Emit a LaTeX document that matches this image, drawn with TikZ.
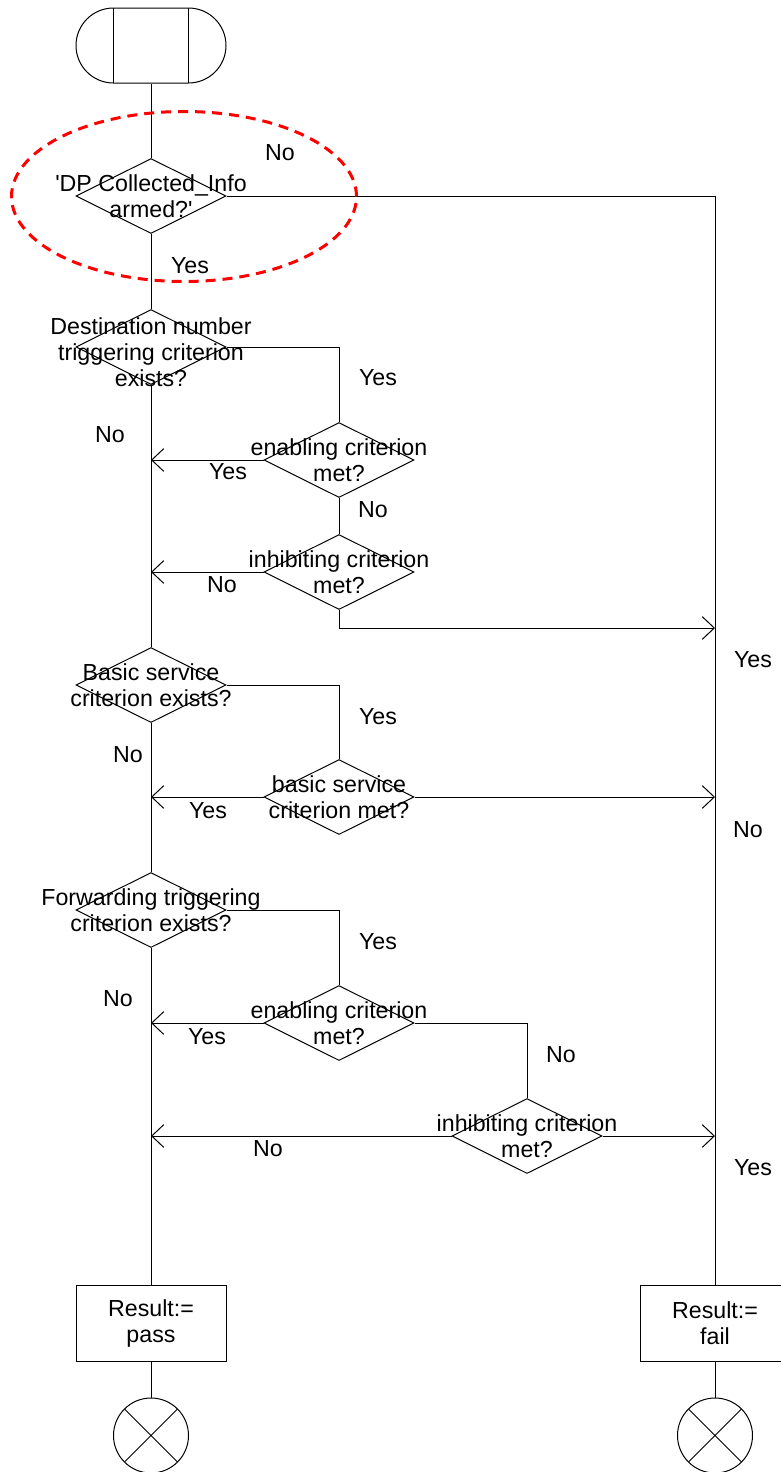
\documentclass[tikz,border=0pt]{standalone}
\usepackage{fontspec}
\setmainfont{Liberation Sans}
\usetikzlibrary{shapes.geometric,arrows.meta}

\tikzset{every picture/.style={line width=0.75pt}}
\tikzset{
  startsym/.style={draw, rectangle, rounded corners=28.125pt, minimum width=112.5pt, minimum height=56.25pt, inner sep=0pt,
    path picture={\draw[sharp corners] ([xshift=28.125pt]path picture bounding box.north west) -- ([xshift=28.125pt]path picture bounding box.south west)
      ([xshift=-28.125pt]path picture bounding box.north east) -- ([xshift=-28.125pt]path picture bounding box.south east);}},
  decision/.style={draw, diamond, minimum width=112.5pt, minimum height=56.25pt, inner sep=0pt},
  dtext/.style={align=center, inner sep=0pt},
  taskbox/.style={draw, rectangle, minimum width=112.5pt, minimum height=57pt, align=center, inner sep=0pt},
  stopsym/.style={draw, circle, minimum size=56.25pt, inner sep=0pt,
    path picture={\draw (path picture bounding box.north west) -- (path picture bounding box.south east)
      (path picture bounding box.south west) -- (path picture bounding box.north east);}},
  hilite/.style={draw=red, ellipse, line width=2.25pt, dash pattern={on 7.5pt off 5.25pt}, minimum width=258.75pt, minimum height=127.5pt, inner sep=0pt},
  flow/.style={-{Straight Barb[length=9pt,width=17pt]}},
  lbl/.style={inner sep=0pt},
}

\begin{document}
\begin{tikzpicture}[x=0.75pt,y=0.75pt,yscale=-1,xscale=1, font=\fontsize{17.4}{19.5}\selectfont]
\useasboundingbox (0,0) rectangle (781,1472);

% Start
\node[startsym] (start) at (151,45.5) {};

% Decisions
\node[decision, label={[dtext]center:\textquotesingle DP Collected\_Info\\armed?\textquotesingle}] (dpq) at (151,196) {};
\node[decision, label={[dtext, yshift=-3.75pt]center:Destination number\\triggering criterion\\exists?}] (dnum) at (151,347) {};
\node[decision, label={[dtext]center:enabling criterion\\met?}] (enab1) at (339,460) {};
\node[decision, label={[dtext]center:inhibiting criterion\\met?}] (inhib1) at (339,572) {};
\node[decision, label={[dtext]center:Basic service\\criterion exists?}] (bsx) at (151,685) {};
\node[decision, label={[dtext]center:basic service\\criterion met?}] (bsmet) at (339,797) {};
\node[decision, label={[dtext]center:Forwarding triggering\\criterion exists?}] (fwd) at (151,910) {};
\node[decision, label={[dtext]center:enabling criterion\\met?}] (enab2) at (339,1023) {};
\node[decision, label={[dtext]center:inhibiting criterion\\met?}] (inhib2) at (527,1136) {};

% Results and stops
\node[taskbox] (pass) at (151,1323) {Result:=\\pass};
\node[taskbox] (fail) at (715,1323) {Result:=\\fail};
\node[stopsym] (stoppass) at (151,1435.5) {};
\node[stopsym] (stopfail) at (715,1435.5) {};

\coordinate (inhibturn) at (339,628);

% Main column
\draw (start.south) -- (dpq.north);
\draw (dpq.south) -- (dnum.north);
\draw (dnum.south) -- (bsx.north);
\draw (bsx.south) -- (fwd.north);
\draw (fwd.south) -- (pass.north);
\draw (pass.south) -- (stoppass.north);
\draw (fail.south) -- (stopfail.north);

% Right column
\draw (dpq.east) -- (dpq.east -| fail.north) -- (fail.north);

% Destination number branch
\draw (dnum.east) -- (dnum.east -| enab1.north) -- (enab1.north);
\draw[flow] (enab1.west) -- (enab1.west -| dnum.south);
\draw (enab1.south) -- (inhib1.north);
\draw[flow] (inhib1.west) -- (inhib1.west -| dnum.south);
\draw[flow] (inhib1.south) -- (inhibturn) -- (inhibturn -| fail.north);

% Basic service branch
\draw (bsx.east) -- (bsx.east -| bsmet.north) -- (bsmet.north);
\draw[flow] (bsmet.west) -- (bsmet.west -| bsx.south);
\draw[flow] (bsmet.east) -- (bsmet.east -| fail.north);

% Forwarding branch
\draw (fwd.east) -- (fwd.east -| enab2.north) -- (enab2.north);
\draw[flow] (enab2.west) -- (enab2.west -| fwd.south);
\draw (enab2.east) -- (enab2.east -| inhib2.north) -- (inhib2.north);
\draw[flow] (inhib2.west) -- (inhib2.west -| fwd.south);
\draw[flow] (inhib2.east) -- (inhib2.east -| fail.north);

% Text Node
\node[lbl] (lno1) at (280,153) {No};
\node[lbl] (lyes1) at (190,266) {Yes};
\node[lbl] (lyes2) at (378,378) {Yes};
\node[lbl] (lno2) at (110,435) {No};
\node[lbl] (lyes3) at (228,472) {Yes};
\node[lbl] (lno3) at (373,510) {No};
\node[lbl] (lno4) at (222,585) {No};
\node[lbl] (lyes4) at (753,660) {Yes};
\node[lbl] (lyes5) at (378,717) {Yes};
\node[lbl] (lno5) at (128,755) {No};
\node[lbl] (lyes6) at (208,811) {Yes};
\node[lbl] (lno6) at (748,830) {No};
\node[lbl] (lyes7) at (378,942) {Yes};
\node[lbl] (lno7) at (118,999) {No};
\node[lbl] (lyes8) at (207,1037) {Yes};
\node[lbl] (lno8) at (561,1055) {No};
\node[lbl] (lno9) at (268,1149) {No};
\node[lbl] (lyes9) at (753,1168) {Yes};

% Highlight
\node[hilite] (ring) at (184,196.5) {};

\end{tikzpicture}
\end{document}
